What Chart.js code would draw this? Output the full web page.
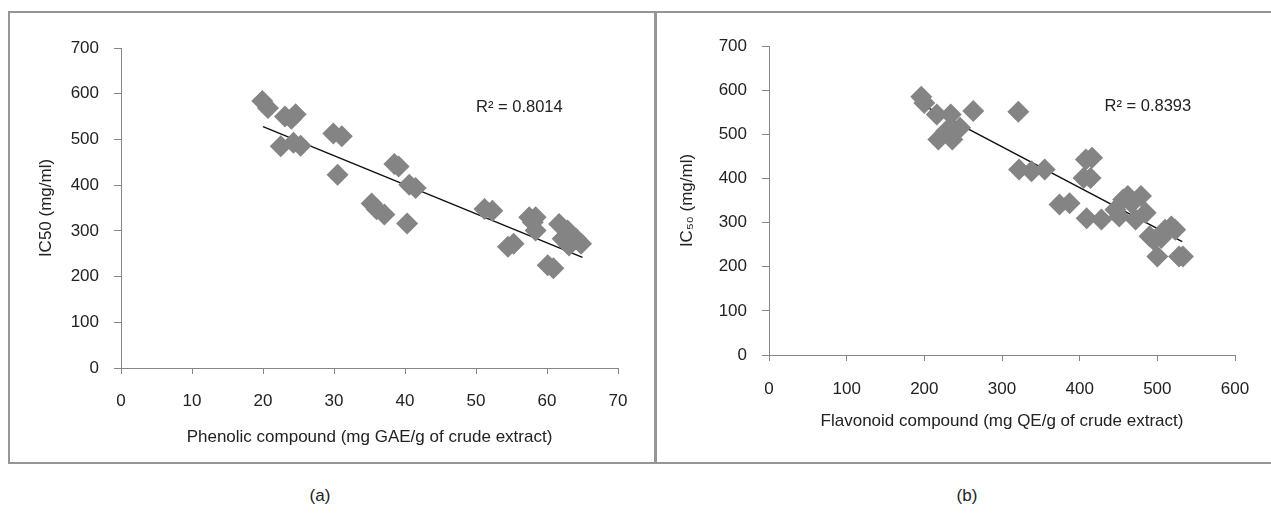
<!DOCTYPE html>
<html>
<head>
<meta charset="utf-8">
<script src="https://cdn.jsdelivr.net/npm/chart.js@4.4.1/dist/chart.umd.min.js"></script>
<style>
html, body { margin: 0; padding: 0; background: #fff; overflow: hidden; }
#wrap { position: relative; width: 1271px; height: 513px; overflow: hidden; font-family: "Liberation Sans", Arial, sans-serif; }
.frame { position: absolute; left: 8px; top: 11px; width: 1290px; height: 453px; border: 2px solid #959595; box-sizing: border-box; }
.divider { position: absolute; left: 654px; top: 11px; width: 3px; height: 453px; background: #959595; }
canvas { position: absolute; }
.cap { position: absolute; top: 486px; font-size: 17px; color: #222; transform: translateX(-50%); }
</style>
</head>
<body>
<div id="wrap">
  <div class="frame"></div>
  <div class="divider"></div>
  <canvas id="chartA" width="644" height="447" style="left:10px;top:14px"></canvas>
  <canvas id="chartB" width="613" height="447" style="left:658px;top:14px"></canvas>
  <div class="cap" style="left:320px">(a)</div>
  <div class="cap" style="left:967px">(b)</div>
</div>
<script>
// (a) phenolic content vs IC50
const phenolX = [19.9, 20.7, 23.1, 24.6, 24.0, 22.5, 24.3, 25.3, 29.9, 31.1, 30.5, 35.3, 36.0, 37.1, 38.5, 39.1, 40.6, 41.5, 40.3,
                 51.2, 52.3, 54.5, 55.3, 57.5, 58.4, 58.0, 58.4, 60.1, 60.9, 61.7, 62.9, 64.1, 64.8, 62.2, 63.1];
const phenolY = [584, 569, 550, 555, 545, 485, 493, 486, 513, 507, 423, 360, 347, 336, 446, 441, 401, 394, 316,
                 348, 344, 265, 272, 330, 330, 319, 301, 225, 218, 315, 301, 283, 272, 283, 268];
const phenolTrendX = [20, 65];
const phenolTrendY = [528, 242];
const phenolR2 = "R\u00b2 = 0.8014";

// (b) flavonoid content vs IC50
const flavX = [196, 200, 216, 234, 218, 236, 238, 246, 228, 263, 321, 322, 338, 355, 374, 387, 408, 416, 405, 414, 409, 428,
               446, 456, 462, 467, 479, 451, 472, 485, 490, 495, 500, 510, 518, 523, 505, 528, 533];
const flavY = [585, 571, 545, 545, 488, 488, 503, 515, 507, 553, 551, 420, 416, 420, 341, 344, 443, 447, 401, 401, 310, 307,
               329, 352, 360, 344, 360, 314, 307, 322, 269, 261, 223, 284, 291, 284, 265, 223, 223];
const flavTrendX = [197, 532];
const flavTrendY = [567, 257];
const flavR2 = "R\u00b2 = 0.8393";

const yTicks = [0, 700, 100];
const phenolTicks = [0, 70, 10];
const flavTicks = [0, 600, 100];

Chart.defaults.font.family = '"Liberation Sans", Arial, sans-serif';
Chart.defaults.font.size = 17;
Chart.defaults.color = '#222';

const axisGray = '#868686';

function pairs(xs, ys) {
    return xs.map((x, i) => ({x: x, y: ys[i]}));
}

// R² label drawn at a data position
const r2Label = {
    id: 'r2Label',
    afterDatasetsDraw(chart, args, opts) {
        const ctx = chart.ctx;
        ctx.save();
        ctx.font = '16.5px "Liberation Sans", Arial, sans-serif';
        ctx.fillStyle = '#222';
        ctx.textBaseline = 'middle';
        ctx.fillText(opts.text, chart.scales.x.getPixelForValue(opts.x), chart.scales.y.getPixelForValue(opts.y));
        ctx.restore();
    }
};

function makeChart(id, xs, ys, tx, ty, xTicks, yTitle, xTitle, r2, r2At, g) {
    new Chart(document.getElementById(id), {
        type: 'scatter',
        data: {
            datasets: [{
                data: pairs(xs, ys),
                pointStyle: 'rectRot',
                pointRadius: 11,
                pointHoverRadius: 11,
                backgroundColor: '#848484',
                borderWidth: 0
            }, {
                data: pairs(tx, ty),
                showLine: true,
                borderColor: '#111',
                borderWidth: 1.5,
                pointRadius: 0
            }]
        },
        options: {
            responsive: false,
            animation: false,
            devicePixelRatio: 1,
            layout: { padding: { left: 0, top: g.top, right: g.right, bottom: 0 } },
            plugins: {
                legend: { display: false },
                tooltip: { enabled: false },
                r2Label: { text: r2, x: r2At[0], y: r2At[1] }
            },
            scales: {
                x: {
                    type: 'linear',
                    min: xTicks[0], max: xTicks[1],
                    ticks: { stepSize: xTicks[2], padding: g.xTickPad, maxRotation: 0 },
                    grid: { drawOnChartArea: false, drawTicks: true, tickLength: 6, color: axisGray },
                    border: { color: axisGray },
                    title: { display: true, text: xTitle, padding: { top: 0, bottom: g.xTitlePad } },
                    afterFit: s => { s.height = g.xh; }
                },
                y: {
                    min: yTicks[0], max: yTicks[1],
                    ticks: { stepSize: yTicks[2], padding: 15 },
                    grid: { drawOnChartArea: false, drawTicks: true, tickLength: 7, color: axisGray },
                    border: { color: axisGray },
                    title: { display: true, text: yTitle, padding: { top: g.yTitlePad, bottom: 0 } },
                    afterFit: s => { s.width = 111; }
                }
            }
        },
        plugins: [r2Label]
    });
}

makeChart('chartA', phenolX, phenolY, phenolTrendX, phenolTrendY, phenolTicks,
    'IC50 (mg/ml)', 'Phenolic compound (mg GAE/g of crude extract)', phenolR2, [50, 569],
    { top: 34, right: 36, xh: 93, xTickPad: 17, xTitlePad: 13, yTitlePad: 26 });

makeChart('chartB', flavX, flavY, flavTrendX, flavTrendY, flavTicks,
    'IC\u2085\u2080 (mg/ml)', 'Flavonoid compound (mg QE/g of crude extract)', flavR2, [432, 562],
    { top: 32, right: 36, xh: 106, xTickPad: 18, xTitlePad: 29, yTitlePad: 19 });
</script>
</body>
</html>
